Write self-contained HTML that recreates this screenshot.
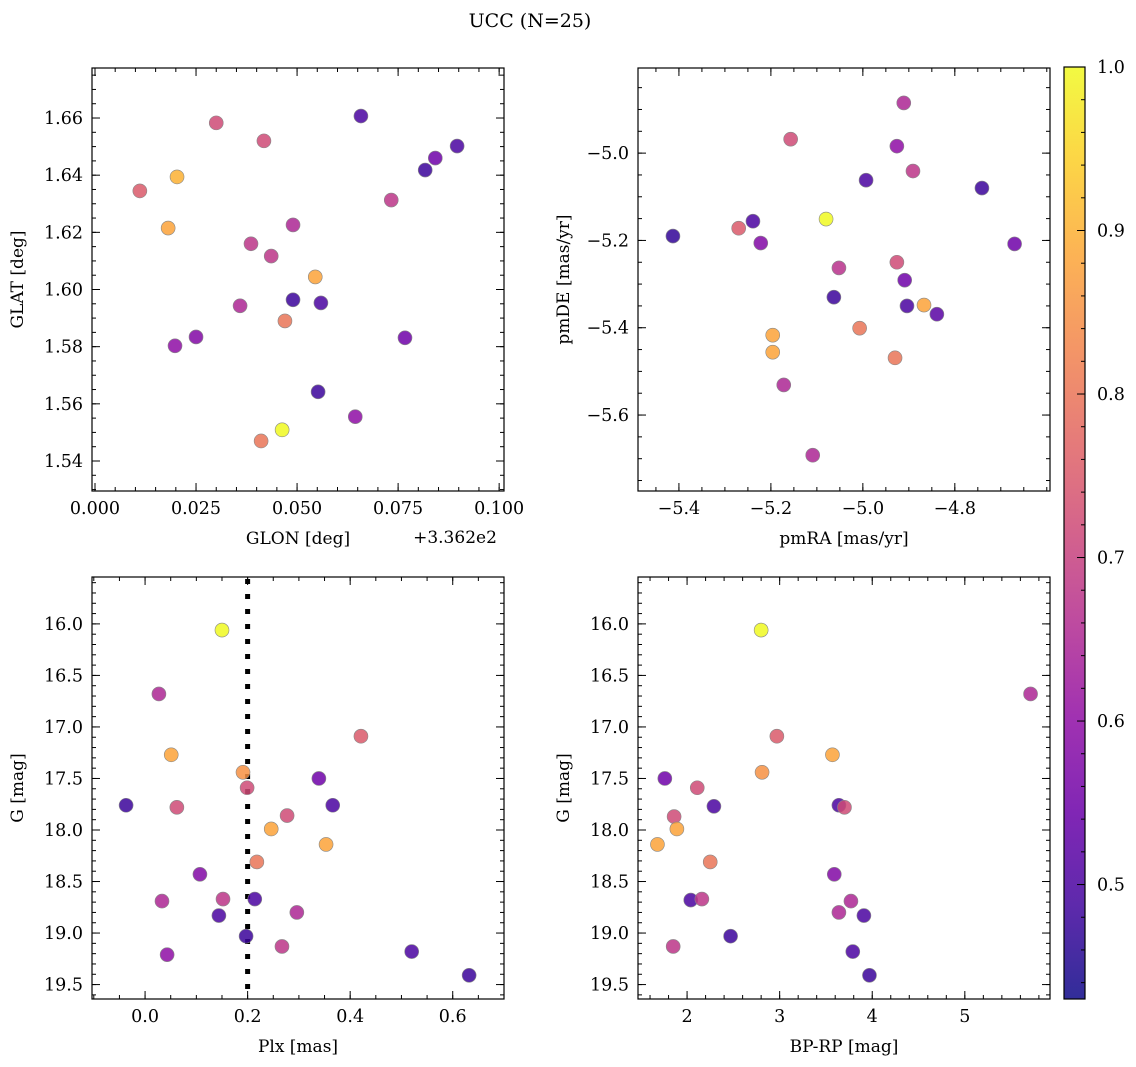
<!DOCTYPE html>
<html><head><meta charset="utf-8">
<style>
html,body{margin:0;padding:0;background:#fff;}
svg{display:block;font-family:"DejaVu Serif","Liberation Serif",serif;}
</style></head>
<body>
<svg id="fig" width="1136" height="1067" viewBox="0 0 1136 1067" xmlns="http://www.w3.org/2000/svg">
<rect width="1136" height="1067" fill="#fff"/>
<text x="530" y="27" font-size="19" text-anchor="middle">UCC (N=25)</text>
</svg>
<script>
// ---- data ----
const tlGlon=[.0111,.0203,.0181,.0300,.0418,.0386,.0436,.049,.0359,.0198,.025,.049,.0559,.0545,.047,.0658,.0733,.0817,.0842,.0896,.0767,.0552,.0644,.0463,.0411];
const tlGlat=[1.6345,1.6394,1.6215,1.6583,1.652,1.616,1.6117,1.6226,1.5943,1.5803,1.5834,1.5964,1.5953,1.6044,1.589,1.6607,1.6313,1.6418,1.646,1.6502,1.5831,1.5642,1.5555,1.5509,1.547];
const tlProb=[.75,.9,.88,.72,.72,.68,.68,.65,.65,.6,.58,.48,.5,.88,.8,.5,.68,.48,.55,.5,.55,.48,.6,1.0,.8];
const trPmra=[-5.413,-5.239,-5.270,-5.222,-5.157,-5.080,-4.993,-5.052,-5.063,-4.911,-4.926,-4.891,-4.926,-4.909,-4.904,-4.867,-4.839,-4.741,-4.670,-5.007,-5.196,-5.196,-4.930,-5.172,-5.109];
const trPmde=[-5.190,-5.156,-5.172,-5.206,-4.968,-5.151,-5.062,-5.263,-5.330,-4.885,-4.984,-5.041,-5.250,-5.291,-5.350,-5.348,-5.369,-5.080,-5.208,-5.401,-5.417,-5.456,-5.469,-5.531,-5.692];
const trProb=[.47,.5,.75,.58,.72,1.0,.5,.67,.48,.65,.6,.68,.72,.55,.5,.88,.52,.48,.55,.8,.88,.88,.8,.65,.65];
const blPlx=[.150,.027,.051,.421,.191,.199,.339,-.037,.062,.366,.246,.277,.353,.218,.107,.033,.152,.214,.144,.296,.197,.267,.043,.520,.632];
const blG=[16.06,16.68,17.27,17.09,17.44,17.59,17.50,17.76,17.78,17.76,17.99,17.86,18.14,18.31,18.43,18.69,18.67,18.67,18.83,18.80,19.03,19.13,19.21,19.18,19.41];
const blProb=[1.0,.65,.88,.75,.85,.72,.55,.48,.72,.5,.88,.72,.88,.8,.58,.65,.68,.5,.5,.65,.48,.68,.6,.5,.48];
const brBprp=[2.80,5.71,2.97,3.57,2.81,1.76,2.11,1.86,2.29,3.64,3.70,1.89,1.68,2.25,3.59,2.04,2.16,3.77,3.64,3.91,2.47,1.85,3.79,3.97];
const brG=[16.06,16.68,17.09,17.27,17.44,17.50,17.59,17.87,17.77,17.76,17.78,17.99,18.14,18.31,18.43,18.68,18.67,18.69,18.80,18.83,19.03,19.13,19.18,19.41];
const brProb=[1.0,.65,.75,.88,.85,.55,.72,.72,.5,.5,.72,.88,.88,.8,.58,.5,.68,.65,.65,.5,.48,.68,.5,.48];
const plxLine=0.2;
const cbTicks=[0.5,0.6,0.7,0.8,0.9,1.0];
const vmin=0.43, vmax=1.0;

const NS="http://www.w3.org/2000/svg";
const svg=document.getElementById('fig');
const FS=17.5;
function mk(tag,attrs,parent){const e=document.createElementNS(NS,tag);for(const k in attrs)e.setAttribute(k,attrs[k]);(parent||svg).appendChild(e);return e;}
const stops=[[0,[13,8,135]],[.1,[65,4,157]],[.2,[106,0,168]],[.3,[143,13,164]],[.4,[177,42,144]],[.5,[204,71,120]],[.6,[225,100,98]],[.7,[242,132,75]],[.8,[252,166,54]],[.9,[252,206,37]],[1,[240,249,33]]];
function plasma(t){t=Math.max(0,Math.min(1,t));for(let i=1;i<stops.length;i++){if(t<=stops[i][0]){const a=stops[i-1],b=stops[i];const f=(t-a[0])/(b[0]-a[0]);return 'rgb('+a[1].map((v,j)=>Math.round(v+(b[1][j]-v)*f)).join(',')+')';}}return 'rgb(240,249,33)';}
function cmap(p){return plasma((p-vmin)/(vmax-vmin));}
function fmt(v,d){return (v<0?'\u2212':'')+Math.abs(v).toFixed(d);}

function panel(o){
  const g=mk('g',{});
  
  
  const sx=v=>o.x0+(v-o.xmin)/(o.xmax-o.xmin)*(o.x1-o.x0);
  const sy=v=>o.y1-(v-o.ymin)/(o.ymax-o.ymin)*(o.y1-o.y0);
  if(o.vline!==undefined){const l=mk('line',{x1:sx(o.vline),x2:sx(o.vline),y1:o.y0+2,y2:o.y1,stroke:'#000','stroke-width':5,'stroke-dasharray':'5,10'},g);
    
    }
  for(let i=0;i<o.xs.length;i++){
    const c=mk('circle',{cx:sx(o.xs[i]),cy:sy(o.ys[i]),r:7,fill:cmap(o.cs[i]),'fill-opacity':0.85,stroke:'#888','stroke-width':0.6},g);
    
    
  }
  mk('rect',{x:o.x0,y:o.y0,width:o.x1-o.x0,height:o.y1-o.y0,fill:'none',stroke:'#000','stroke-width':1.2},g);
  const eps=1e-9;
  for(let v=Math.ceil(o.xmin/o.xminor)*o.xminor;v<=o.xmax+eps;v+=o.xminor){const X=sx(v);mk('line',{x1:X,x2:X,y1:o.y1,y2:o.y1-4,stroke:'#000'},g);mk('line',{x1:X,x2:X,y1:o.y0,y2:o.y0+4,stroke:'#000'},g);}
  for(let v=Math.ceil(o.ymin/o.yminor)*o.yminor;v<=o.ymax+eps;v+=o.yminor){const Y=sy(v);mk('line',{x1:o.x0,x2:o.x0+4,y1:Y,y2:Y,stroke:'#000'},g);mk('line',{x1:o.x1,x2:o.x1-4,y1:Y,y2:Y,stroke:'#000'},g);}
  o.xt.forEach(v=>{const X=sx(v);mk('line',{x1:X,x2:X,y1:o.y1,y2:o.y1-8,stroke:'#000'},g);mk('line',{x1:X,x2:X,y1:o.y0,y2:o.y0+8,stroke:'#000'},g);
    const t=mk('text',{x:X,y:o.y1+23,'font-size':FS,'text-anchor':'middle'},g);t.textContent=fmt(v,o.xd);
    
    });
  o.yt.forEach((v,i)=>{const Y=sy(v);mk('line',{x1:o.x0,x2:o.x0+8,y1:Y,y2:Y,stroke:'#000'},g);mk('line',{x1:o.x1,x2:o.x1-8,y1:Y,y2:Y,stroke:'#000'},g);
    const t=mk('text',{x:o.x0-9,y:Y+6,'font-size':FS,'text-anchor':'end'},g);t.textContent=o.ylab?o.ylab[i]:fmt(v,o.yd);
    
    });
  const xl=mk('text',{x:(o.x0+o.x1)/2,y:o.y1+53,'font-size':17,'text-anchor':'middle'},g);xl.textContent=o.xlabel;
  
  
  const yl=mk('text',{x:0,y:0,'font-size':17,'text-anchor':'middle',transform:`translate(${o.ylx},${(o.y0+o.y1)/2}) rotate(-90)`},g);yl.textContent=o.ylabel;
  
  
}

panel({name:'glon-glat-panel',x0:92,x1:504,y0:68,y1:491,xmin:-0.00074,xmax:0.1012,ymin:1.5295,ymax:1.6775,xs:tlGlon,ys:tlGlat,cs:tlProb,
  xt:[0,.025,.05,.075,.1],xd:3,xminor:.005,yt:[1.54,1.56,1.58,1.60,1.62,1.64,1.66],yd:2,yminor:.005,xlabel:'GLON [deg]',ylabel:'GLAT [deg]',ylx:23});
const off=mk('text',{x:455,y:543,'font-size':17,'text-anchor':'middle'});off.textContent='+3.362e2';


panel({name:'pm-panel',x0:638,x1:1050,y0:68,y1:491,xmin:-5.489,xmax:-4.593,ymin:-5.774,ymax:-4.805,xs:trPmra,ys:trPmde,cs:trProb,
  xt:[-5.4,-5.2,-5.0,-4.8],xd:1,xminor:.05,yt:[-5.6,-5.4,-5.2,-5.0],yd:1,yminor:.05,xlabel:'pmRA [mas/yr]',ylabel:'pmDE [mas/yr]',ylx:569});
function magPanel(o){o.ymin=-o.gmax;o.ymax=-o.gmin;o.ys=o.ys.map(v=>-v);o.yt=o.ytv.map(v=>-v);o.ylab=o.ytv.map(v=>v.toFixed(1));panel(o);}
const gT=[16,16.5,17,17.5,18,18.5,19,19.5];
magPanel({name:'plx-g-panel',x0:92,x1:504,y0:577,y1:999,xmin:-0.1035,xmax:0.7,gmin:15.545,gmax:19.64,xs:blPlx,ys:blG,cs:blProb,vline:plxLine,
  xt:[0,.2,.4,.6],xd:1,xminor:.05,ytv:gT,yd:1,yminor:.1,xlabel:'Plx [mas]',ylabel:'G [mag]',ylx:23});
magPanel({name:'cmd-panel',x0:638,x1:1050,y0:577,y1:999,xmin:1.47,xmax:5.92,gmin:15.545,gmax:19.64,xs:brBprp,ys:brG,cs:brProb,
  xt:[2,3,4,5],xd:0,xminor:.2,ytv:gT,yd:1,yminor:.1,xlabel:'BP-RP [mag]',ylabel:'G [mag]',ylx:569});

// colorbar
const cb=mk('g',{});


const defs=mk('defs',{},cb);
const lg=mk('linearGradient',{id:'cbg',x1:0,y1:1,x2:0,y2:0},defs);
for(let i=0;i<=20;i++){mk('stop',{offset:i/20,'stop-color':plasma(i/20),'stop-opacity':0.85},lg);}
const cx0=1064,cx1=1085,cy0=67,cy1=999;
mk('rect',{x:cx0,y:cy0,width:cx1-cx0,height:cy1-cy0,fill:'url(#cbg)',stroke:'#000','stroke-width':1.2},cb);
const cy=v=>cy1-(v-vmin)/(vmax-vmin)*(cy1-cy0);
for(let v=0.44;v<=1.0001;v+=0.02){mk('line',{x1:cx1,x2:cx1-4,y1:cy(v),y2:cy(v),stroke:'#000'},cb);}
cbTicks.forEach(v=>{mk('line',{x1:cx1,x2:cx1-8,y1:cy(v),y2:cy(v),stroke:'#000'},cb);
  const t=mk('text',{x:cx1+12,y:cy(v)+6,'font-size':FS},cb);t.textContent=v.toFixed(1);
  
  });
</script>
</body></html>
